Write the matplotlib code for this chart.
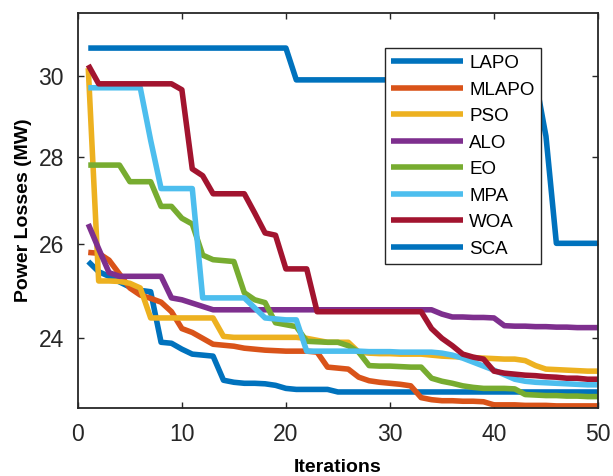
import matplotlib
matplotlib.use("Agg")
import matplotlib.pyplot as plt
from matplotlib.ticker import FixedLocator, FixedFormatter, NullLocator

iterations = list(range(1, 51))

LAPO = [25.62, 25.40, 25.30, 25.18, 25.07, 25.00, 24.97, 23.92, 23.90, 23.78,
        23.68, 23.66, 23.64, 23.16, 23.12, 23.10, 23.10, 23.09, 23.06, 23.00,
        22.98, 22.98, 22.98, 22.98, 22.93, 22.93, 22.93, 22.93, 22.93, 22.93,
        22.93, 22.93, 22.93, 22.93, 22.93, 22.93, 22.93, 22.93, 22.93, 22.93,
        22.93, 22.93, 22.93, 22.93, 22.93, 22.93, 22.93, 22.93, 22.93, 22.93]
MLAPO = [25.82, 25.80, 25.65, 25.35, 25.05, 24.90, 24.83, 24.75, 24.55, 24.20,
         24.12, 24.00, 23.88, 23.86, 23.84, 23.80, 23.78, 23.76, 23.75, 23.74,
         23.74, 23.74, 23.72, 23.42, 23.40, 23.38, 23.22, 23.15, 23.12, 23.10,
         23.08, 23.05, 22.82, 22.78, 22.76, 22.76, 22.75, 22.75, 22.74, 22.68,
         22.68, 22.68, 22.67, 22.67, 22.67, 22.66, 22.66, 22.66, 22.66, 22.66]
PSO = [30.20, 25.20, 25.20, 25.19, 25.15, 25.05, 24.42, 24.42, 24.42, 24.42,
       24.42, 24.42, 24.42, 24.04, 24.02, 24.02, 24.02, 24.02, 24.02, 24.02,
       24.02, 24.00, 23.96, 23.92, 23.92, 23.92, 23.72, 23.70, 23.69, 23.69,
       23.68, 23.68, 23.68, 23.66, 23.64, 23.63, 23.62, 23.61, 23.60, 23.59,
       23.58, 23.58, 23.55, 23.45, 23.38, 23.37, 23.36, 23.35, 23.34, 23.34]
ALO = [26.45, 25.90, 25.38, 25.30, 25.30, 25.30, 25.30, 25.30, 24.84, 24.80,
       24.73, 24.66, 24.59, 24.59, 24.59, 24.59, 24.59, 24.59, 24.59, 24.59,
       24.59, 24.59, 24.59, 24.59, 24.59, 24.59, 24.59, 24.59, 24.59, 24.59,
       24.59, 24.59, 24.59, 24.59, 24.50, 24.44, 24.44, 24.43, 24.43, 24.42,
       24.26, 24.25, 24.25, 24.24, 24.24, 24.23, 24.23, 24.22, 24.22, 24.22]
EO = [27.81, 27.81, 27.81, 27.81, 27.42, 27.42, 27.42, 26.85, 26.85, 26.58,
      26.45, 25.76, 25.66, 25.64, 25.62, 24.95, 24.80, 24.74, 24.32, 24.28,
      24.24, 23.94, 23.93, 23.92, 23.92, 23.85, 23.72, 23.45, 23.44, 23.44,
      23.43, 23.42, 23.42, 23.20, 23.14, 23.10, 23.05, 23.02, 23.00, 23.00,
      23.00, 22.99, 22.88, 22.87, 22.86, 22.86, 22.85, 22.85, 22.84, 22.84]
MPA = [29.70, 29.70, 29.70, 29.70, 29.70, 29.70, 28.40, 27.26, 27.26, 27.26,
       27.26, 24.84, 24.84, 24.84, 24.84, 24.84, 24.63, 24.42, 24.40, 24.38,
       24.38, 23.74, 23.74, 23.74, 23.74, 23.74, 23.74, 23.73, 23.73, 23.73,
       23.72, 23.72, 23.72, 23.72, 23.70, 23.66, 23.60, 23.52, 23.44, 23.36,
       23.27, 23.18, 23.14, 23.12, 23.11, 23.10, 23.09, 23.08, 23.07, 23.07]
WOA = [30.28, 29.80, 29.80, 29.80, 29.80, 29.80, 29.80, 29.80, 29.80, 29.65,
       27.72, 27.56, 27.14, 27.14, 27.14, 27.14, 26.70, 26.25, 26.20, 25.46,
       25.46, 25.46, 24.55, 24.55, 24.55, 24.55, 24.55, 24.55, 24.55, 24.55,
       24.55, 24.55, 24.55, 24.20, 24.00, 23.85, 23.68, 23.62, 23.58, 23.34,
       23.30, 23.28, 23.26, 23.25, 23.23, 23.22, 23.20, 23.20, 23.18, 23.18]
SCA = [30.72] * 20 + [29.90] * 24 + [28.50] + [26.02] * 5

series_names = ["LAPO", "MLAPO", "PSO", "ALO", "EO", "MPA", "WOA", "SCA"]
series_values = [LAPO, MLAPO, PSO, ALO, EO, MPA, WOA, SCA]
colors = ["#0072BD", "#D95319", "#EDB120", "#7E2F8E", "#77AC30",
          "#4DBEEE", "#A2142F", "#0072BD"]

x_ticks = [0, 10, 20, 30, 40, 50]
y_ticks = [24, 26, 28, 30]
y_tick_labels = ["24", "26", "28", "30"]

plt.rcParams['font.family'] = ['Liberation Sans', 'DejaVu Sans']

fig = plt.figure(figsize=(6.13, 4.76), dpi=100)
ax = fig.add_axes([0.127, 0.1429, 0.8485, 0.8298])

for name, vals, c in zip(series_names, series_values, colors):
    ax.plot(iterations, vals, color=c, linewidth=4.0, label=name,
            solid_joinstyle='round', solid_capstyle='butt')

ax.set_yscale('log')
ax.set_xlim(0, 50)
ax.set_ylim(22.62, 31.65)
ax.yaxis.set_major_locator(FixedLocator(y_ticks))
ax.yaxis.set_major_formatter(FixedFormatter(y_tick_labels))
ax.yaxis.set_minor_locator(NullLocator())
ax.set_xticks(x_ticks)

ax.tick_params(axis='both', which='major', direction='in', length=4,
               width=1.0, top=True, right=True, labelsize=16.5,
               labelcolor='#262626', color='#262626')
ax.tick_params(axis='y', pad=10)
ax.tick_params(axis='x', pad=11)
for sp in ax.spines.values():
    sp.set_linewidth(1.3)
    sp.set_color('#262626')

ax.set_xlabel("Iterations", fontsize=14, fontweight='bold', labelpad=9)
ax.set_ylabel("Power Losses (MW)", fontsize=14, fontweight='bold', labelpad=5)

leg = ax.legend(loc='upper left', bbox_to_anchor=(0.590, 0.911),
                fontsize=13.5, frameon=True, fancybox=False, framealpha=1,
                edgecolor='#262626', handlelength=3.8, handletextpad=0.35,
                labelspacing=0.50, borderpad=0.36, borderaxespad=0)
leg.get_frame().set_linewidth(1.0)

fig.savefig("out.png", dpi=100)
